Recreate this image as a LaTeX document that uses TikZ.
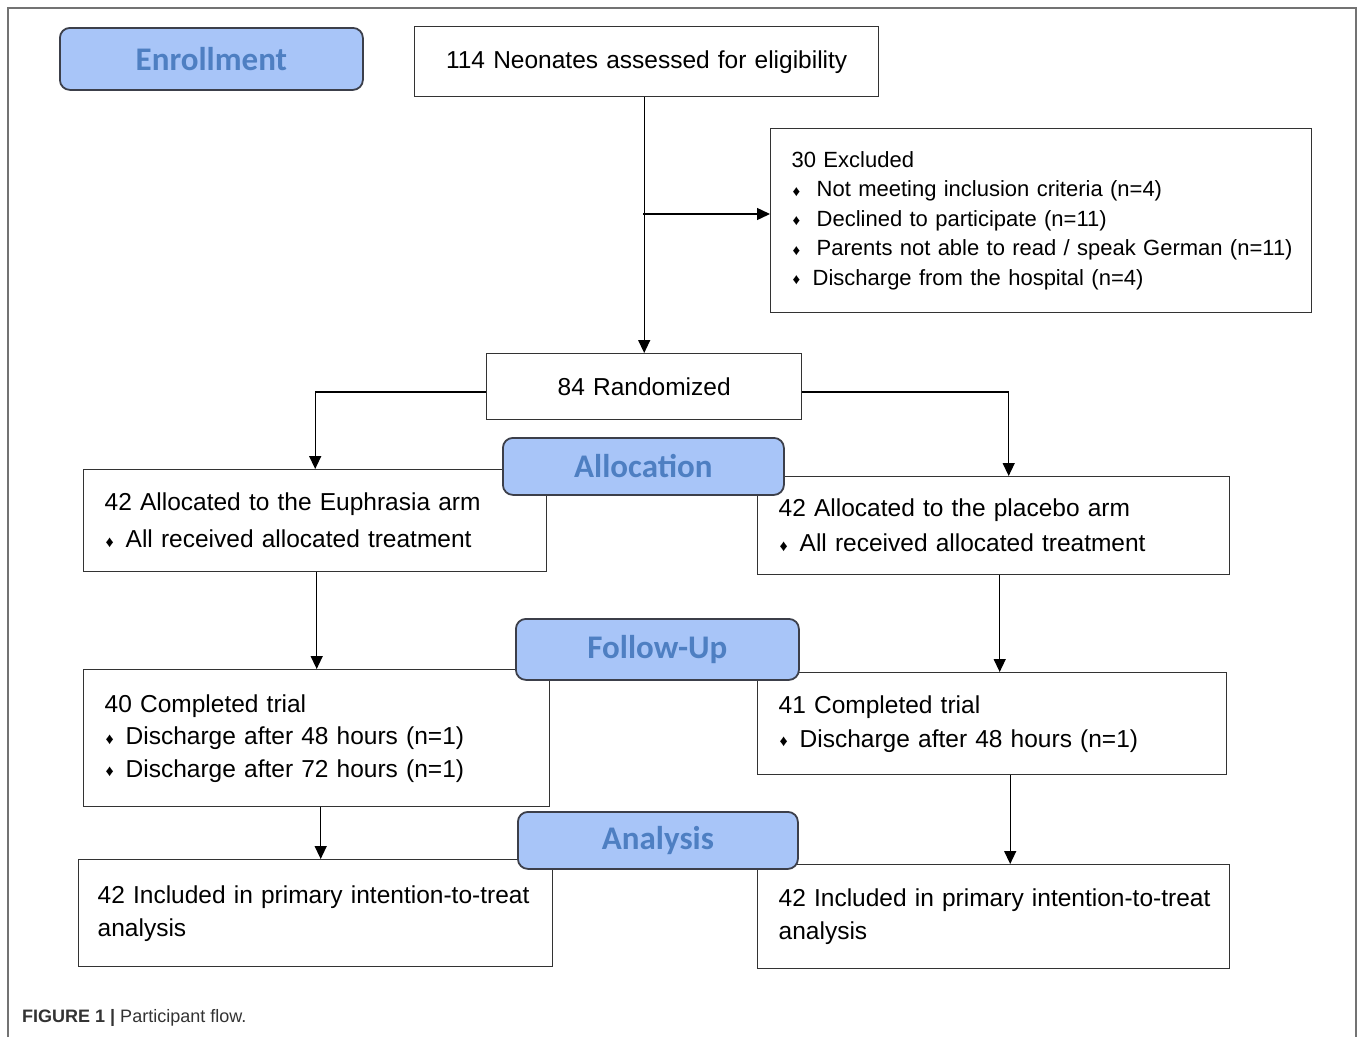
\documentclass[tikz,border=0pt]{standalone}
\usepackage{fontspec}
\setmainfont{Liberation Sans}
\newfontfamily\lblfont{Carlito}
\usetikzlibrary{arrows.meta,calc}
\definecolor{lblfill}{HTML}{A8C5F8}
\definecolor{lbltext}{HTML}{4E7FC2}
\definecolor{lbldraw}{HTML}{3C3F4A}
\definecolor{boxdraw}{HTML}{333333}
\newcommand{\dmd}{\makebox[21pt][l]{\hspace{1pt}{\fontsize{16}{16}\selectfont\raisebox{0.5pt}{♦}}}}
\newcommand{\dmdx}{\makebox[21pt][l]{\hspace{1pt}{\fontsize{15}{15}\selectfont\raisebox{0.5pt}{♦}}}}
\begin{document}
\begin{tikzpicture}[x=1pt,y=-1pt,
  flowbox/.style={draw=boxdraw, line width=1.4pt, anchor=north west, inner xsep=21pt, inner ysep=0pt, align=left},
  lbl/.style={draw=lbldraw, line width=1.8pt, fill=lblfill, rounded corners=10pt, anchor=north west,
    text=lbltext, font=\lblfont\bfseries\fontsize{33}{33}\selectfont, inner sep=0pt, align=center},
  arr/.style={draw=black, line width=1.4pt, -{Triangle[length=13pt,width=12pt]}},
  lnk/.style={draw=black, line width=1.4pt}]
\useasboundingbox (0,0) rectangle (1358,1037);
% frame
\draw[color=gray!90!black, line width=2pt] (8,1037) -- (8,8) -- (1356,8) -- (1356,1037);

% boxes
\node[flowbox, minimum width=464pt, minimum height=70pt, text width=422pt, align=center, font=\fontsize{24.5}{24.5}\selectfont] (neo) at (414,26) {\mbox{114 Neonates assessed for eligibility}};

\node[flowbox, minimum width=541pt, minimum height=184pt, text width=499pt, font=\fontsize{22}{29.5}\selectfont] (excl) at (770,128)
 {30 Excluded\\
  \dmdx\hspace{4pt}Not meeting inclusion criteria (n=4)\\
  \dmdx\hspace{4pt}Declined to participate (n=11)\\
  \dmdx\hspace{4pt}\mbox{Parents not able to read / speak German (n=11)}\\
  \dmdx Discharge from the hospital (n=4)};

\node[flowbox, minimum width=315pt, minimum height=66pt, text width=273pt, align=center, font=\fontsize{24.5}{24.5}\selectfont] (rand) at (486,353) {84 Randomized};

\node[flowbox, minimum width=463pt, minimum height=102pt, text width=421pt, font=\fontsize{24.5}{37}\selectfont] (euph) at (83,469)
 {\mbox{42 Allocated to the Euphrasia arm}\\ \dmd\mbox{All received allocated treatment}};

\node[flowbox, minimum width=472pt, minimum height=98pt, text width=430pt, font=\fontsize{24.5}{35}\selectfont] (plac) at (757,476)
 {\mbox{42 Allocated to the placebo arm}\\ \dmd\mbox{All received allocated treatment}};

\node[flowbox, minimum width=466pt, minimum height=137pt, text width=424pt, font=\fontsize{24.5}{32.5}\selectfont] (compL) at (83,669)
 {40 Completed trial\\ \dmd\mbox{Discharge after 48 hours (n=1)}\\ \dmd\mbox{Discharge after 72 hours (n=1)}};

\node[flowbox, minimum width=469pt, minimum height=102pt, text width=427pt, font=\fontsize{24.5}{34}\selectfont] (compR) at (757,672)
 {41 Completed trial\\ \dmd\mbox{Discharge after 48 hours (n=1)}};

\node[flowbox, minimum width=474pt, minimum height=107pt, inner xsep=19pt, text width=436pt, font=\fontsize{24.5}{33}\selectfont] (anaL) at (78,859)
 {\mbox{42 Included in primary intention-to-treat}\\ analysis};

\node[flowbox, minimum width=472pt, minimum height=104pt, text width=430pt, font=\fontsize{24.5}{33}\selectfont] (anaR) at (757,864)
 {\mbox{42 Included in primary intention-to-treat}\\ analysis};

% stage labels
\node[lbl, minimum width=303pt, minimum height=62pt] (enr) at (59,27) {Enrollment};
\node[lbl, minimum width=281pt, minimum height=57pt] (alloc) at (502,437) {Allocation};
\node[lbl, minimum width=283pt, minimum height=61pt] (fol) at (515,618) {Follow-Up};
\node[lbl, minimum width=280pt, minimum height=57pt] (ana) at (517,811) {Analysis};

% connectors
\draw[arr] (neo.south -| rand.north) -- (rand.north);
\coordinate (br) at (643,214);
\draw[arr] (br) -- (br -| excl.west);
\draw[arr] (rand.west |- 0,392) -| (euph.north);
\draw[arr] (rand.east |- 0,392) -| ([xshift=15pt]plac.north);
\draw[arr] (euph.south -| compL.north) -- (compL.north);
\draw[arr] ([xshift=6pt]plac.south) -- ([xshift=6pt]plac.south |- compR.north);
\draw[arr] ([xshift=4pt]compL.south) -- ([xshift=4pt]compL.south |- anaL.north);
\draw[arr] ([xshift=18pt]compR.south) -- ([xshift=18pt]compR.south |- anaR.north);

% caption
\node[anchor=west, inner sep=0pt, text=black!80, font=\fontsize{18}{18}\selectfont] (cap) at (22,1018) {\textbf{FIGURE 1 |} Participant flow.};
\end{tikzpicture}
\end{document}
